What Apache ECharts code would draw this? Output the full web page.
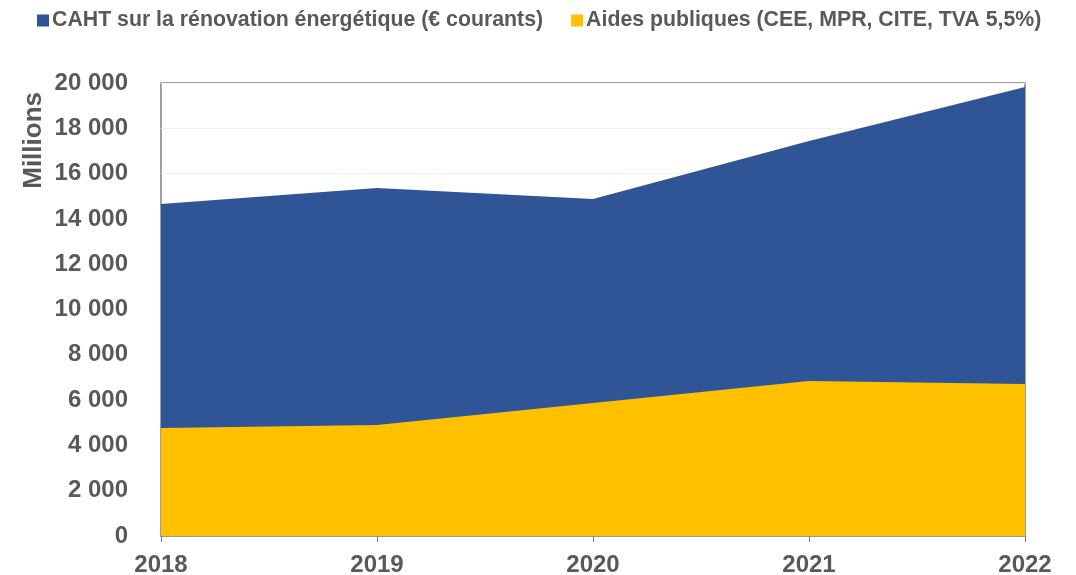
<!DOCTYPE html>
<html>
<head>
<meta charset="utf-8">
<script src="https://cdn.jsdelivr.net/npm/echarts@6/dist/echarts.min.js"></script>
<style>
  html, body { margin: 0; padding: 0; background: #fff; }
  #chart { width: 1076px; height: 575px; }
</style>
</head>
<body>
<div id="chart"></div>
<script>
// données (millions d'euros)
const years = ['2018', '2019', '2020', '2021', '2022'];
const caht = [14660, 15360, 14880, 17440, 19820];
const aides = [4770, 4900, 5870, 6840, 6710];
const seriesNames = ['CAHT sur la rénovation énergétique (€ courants)', 'Aides publiques (CEE, MPR, CITE, TVA 5,5%)'];

const txt = '#595959';
const font = 'Liberation Sans, Arial, sans-serif';

const chart = echarts.init(document.getElementById('chart'));
chart.setOption({
    animation: false,
    textStyle: { fontFamily: font },
    legend: {
        top: 5,
        left: 32,
        icon: 'rect',
        itemWidth: 12,
        itemHeight: 12,
        itemGap: 28,
        textStyle: { color: txt, fontSize: 21.3, fontWeight: 'bold', fontFamily: font, padding: [0, 0, 0, -2] },
        data: seriesNames
    },
    graphic: [{
        type: 'text',
        left: 21,
        top: 92,
        rotation: Math.PI / 2,
        style: { text: 'Millions', fill: txt, font: 'bold 26px ' + font }
    }],
    grid: {
        left: 161, right: 51, top: 83, bottom: 39,
        outerBoundsMode: 'none',
        show: true, borderColor: '#808080', borderWidth: 1.5
    },
    xAxis: {
        type: 'category',
        data: years,
        boundaryGap: false,
        axisLine: { lineStyle: { color: '#808080', width: 1.5 } },
        axisTick: { show: true, length: 6, lineStyle: { color: '#808080' } },
        axisLabel: { color: txt, fontSize: 24, fontWeight: 'bold', margin: 17 },
        splitLine: { show: false }
    },
    yAxis: {
        type: 'value',
        min: 0, max: 20000, interval: 2000,
        axisLine: { show: false },
        axisTick: { show: false },
        axisLabel: {
            color: txt, fontSize: 24, fontWeight: 'bold', margin: 33,
            formatter: v => v >= 1000 ? Math.floor(v / 1000) + ' ' + String(v % 1000).padStart(3, '0') : String(v)
        },
        splitLine: { lineStyle: { color: '#eef3fa', width: 1 } }
    },
    series: [
        {
            name: seriesNames[0],
            type: 'line',
            data: caht,
            symbol: 'none',
            lineStyle: { width: 0 },
            itemStyle: { color: '#2F5597' },
            areaStyle: { color: '#2F5597', opacity: 1 }
        },
        {
            name: seriesNames[1],
            type: 'line',
            data: aides,
            symbol: 'none',
            lineStyle: { width: 0 },
            itemStyle: { color: '#FFC000' },
            areaStyle: { color: '#FFC000', opacity: 1 }
        }
    ]
});
</script>
</body>
</html>
